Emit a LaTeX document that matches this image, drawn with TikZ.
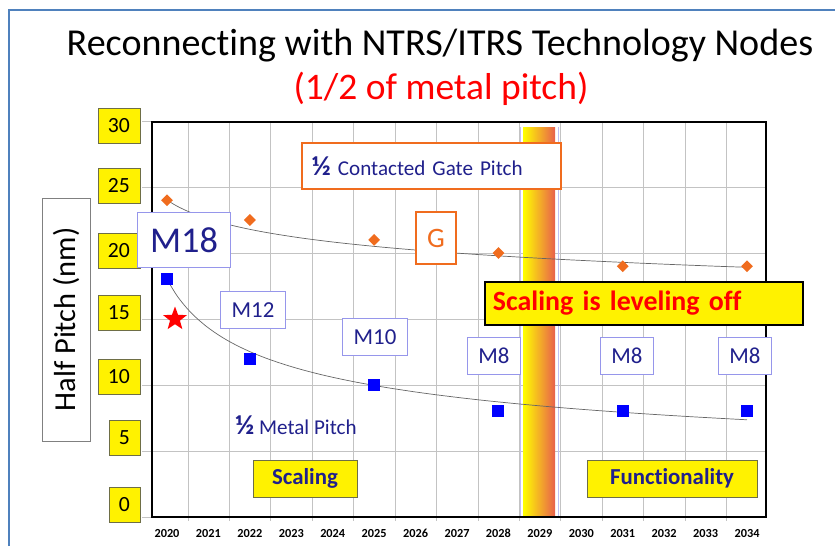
\documentclass[tikz,border=0pt]{standalone}
\usepackage{fontspec}
\setmainfont{Carlito}[Ligatures=NoCommon]
\usepackage{xcolor}
\usepackage{graphicx}
\usepackage{tikz}
\usetikzlibrary{shapes.geometric}

\definecolor{navytext}{RGB}{32,32,140}
\definecolor{gateorange}{RGB}{240,108,30}
\definecolor{markblue}{RGB}{0,0,255}
\definecolor{boxedge}{RGB}{150,150,235}
\definecolor{tickedge}{RGB}{110,110,70}
\definecolor{gridgray}{RGB}{195,195,195}
\definecolor{slideedge}{RGB}{79,129,189}
\definecolor{bandred}{RGB}{232,96,76}

\newcommand{\halfsign}{\textbf{\scalebox{1.3}{½}}}

\begin{document}
\begin{tikzpicture}[x=0.03cm, y=-0.03cm,
    ticklbl/.style={draw=tickedge, fill=yellow, inner xsep=0.3cm, inner ysep=0pt,
        minimum height=1.05cm, anchor=east, font=\fontsize{18.5pt}{20pt}\selectfont},
    yearlbl/.style={font=\fontsize{10.5pt}{12pt}\selectfont\bfseries},
    mlbl/.style={draw=boxedge, fill=white, line width=0.8pt, text=navytext,
        inner xsep=0.33cm, minimum height=1.1cm, font=\fontsize{19.5pt}{22pt}\selectfont},
    metalpt/.style={rectangle, fill=markblue, minimum size=0.36cm, inner sep=0pt},
    gatept/.style={diamond, fill=gateorange, minimum size=0.36cm, inner sep=0pt},
    yellowbox/.style={draw=tickedge, fill=yellow, text=navytext, minimum height=1.11cm,
        font=\fontsize{19.5pt}{22pt}\selectfont\bfseries},
    trend/.style={draw=black!60, line width=0.6pt}]

\useasboundingbox (0,0) rectangle (835,546);

% Slide edge
\draw[slideedge, line width=1pt] (9,546) -- (9,10) -- (835,10);

% Title
\node[anchor=base, font=\fontsize{32.5pt}{36pt}\selectfont] (title) at (440,55)
    {Reconnecting with NTRS/ITRS Technology Nodes};
\node[anchor=base, text=red, font=\fontsize{32pt}{36pt}\selectfont] (subtitle) at (441,99)
    {(1/2 of metal pitch)};

% Grid
\foreach \v in {0,5,...,30}
    \draw[gridgray, line width=0.8pt] (142,{517-13.2*\v}) -- (766,{517-13.2*\v});
\foreach \k in {0,...,13}
    \draw[gridgray, line width=0.8pt] ({188+41.43*\k},122) -- ({188+41.43*\k},521);

% Band where scaling stops
\fill[left color=yellow, middle color=yellow!90!orange, right color=bandred]
    (523,127) rectangle (555,517);
\draw[boxedge!60, line width=0.8pt] (520,127) -- (520,517) (558,127) -- (558,517);

% Plot frame
\draw[line width=2.4pt] (152,122) rectangle (766,517);

% Value labels
\foreach \v/\yy in {30/126, 25/186, 20/251, 15/313, 10/377, 5/438, 0/505}
    \node[ticklbl] (t\v) at (140,\yy) {\v};

\node[draw=black!50, rotate=90, minimum width=7.29cm, minimum height=1.44cm,
    font=\fontsize{26pt}{30pt}\selectfont] (ylabel) at (66,319.5) {Half Pitch (nm)};

% Year labels
\foreach \yr [count=\k from 0] in {2020,...,2034}
    \node[yearlbl] (yr\yr) at ({167+41.43*\k},533) {\yr};

% Trend lines
\draw[trend] plot[domain=1:15, samples=60, smooth]
    ({167+41.43*(\x-1)}, {517-13.2*24*\x^(-0.088)});
\draw[trend] plot[domain=1:15, samples=60, smooth]
    ({167+41.43*(\x-1)}, {517-13.2*18*\x^(-0.33)});

% Gate pitch points
\foreach \yr/\v in {2020/24, 2022/22.5, 2025/21, 2028/20, 2031/19, 2034/19}
    \node[gatept] (gp\yr) at ({167+41.43*(\yr-2020)}, {517-13.2*\v}) {};

% Metal pitch points
\foreach \yr/\v in {2020/18, 2022/12, 2025/10, 2028/8, 2031/8, 2034/8}
    \node[metalpt] (mp\yr) at ({167+41.43*(\yr-2020)}, {517-13.2*\v}) {};

\node[star, star points=5, star point ratio=2.4, fill=red, inner sep=0pt,
    minimum size=0.75cm] (target) at (175,319) {};

% Metal level labels
\node[mlbl, inner xsep=0.37cm, minimum height=1.65cm,
    font=\fontsize{31pt}{34pt}\selectfont] (m18) at (184,240) {M18};
\node[mlbl] (m12) at (253,310) {M12};
\node[mlbl] (m10) at (375,337) {M10};
\node[mlbl] (m8a) at (494,356) {M8};
\node[mlbl] (m8b) at (627,356) {M8};
\node[mlbl] (m8c) at (745,356) {M8};

% Gate labels
\node[draw=gateorange, fill=white, line width=1.8pt, text=navytext, align=left,
    text width=7.17cm, inner xsep=0.3cm, minimum height=1.38cm,
    font=\fontsize{18pt}{22pt}\selectfont] (gatelbl) at (431.5,166)
    {\halfsign\ Contacted Gate Pitch};
\node[draw=gateorange, fill=white, line width=1.8pt, text=gateorange,
    minimum width=1.2cm, minimum height=1.56cm,
    font=\fontsize{24pt}{28pt}\selectfont] (glbl) at (436,238) {G};

\node[text=navytext, font=\fontsize{18pt}{22pt}\selectfont] (metallbl) at (296,425)
    {\halfsign\ Metal Pitch};

% Regions
\node[yellowbox, minimum width=3.12cm] (scaling) at (305,478.5) {Scaling};
\node[yellowbox, minimum width=5.1cm] (func) at (672,478.5) {Functionality};

\node[draw, line width=2.4pt, fill=yellow, text=red, align=left, text width=9.06cm,
    inner xsep=0.24cm, minimum height=1.29cm,
    font=\fontsize{23.8pt}{28pt}\selectfont\bfseries] (leveling) at (644,303.5)
    {Scaling is leveling off};

\end{tikzpicture}
\end{document}
